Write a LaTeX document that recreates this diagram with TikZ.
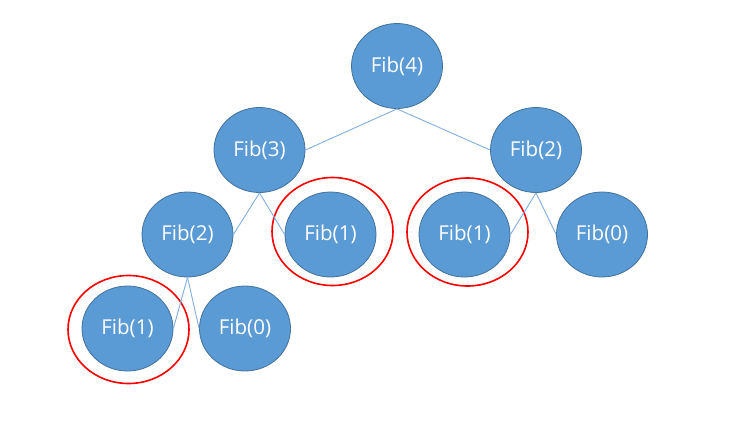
\documentclass[tikz,border=0pt]{standalone}
\usepackage{fontspec}
\setmainfont{Open Sans}
\usetikzlibrary{shapes.geometric}
\definecolor{nodefill}{HTML}{5B9BD5}
\definecolor{nodeline}{HTML}{41719C}
\definecolor{edgecol}{HTML}{7FAEE0}
\begin{document}
\begin{tikzpicture}[x=1pt,y=-1pt,
  fib/.style={ellipse, fill=nodefill, draw=nodeline, line width=0.8pt,
    minimum width=91pt, minimum height=85pt, inner sep=0pt,
    text=white, font=\fontsize{20.5}{22}\selectfont},
  edge/.style={draw=edgecol, line width=0.9pt},
  mark1/.style={ellipse, draw=red, line width=1.6pt, minimum width=121pt,
    minimum height=108pt, inner sep=0pt}]
\useasboundingbox (0,0) rectangle (743,423);
\node[mark1] (r1) at (128.5,329.5) {};
\node[mark1] (r2) at (332.5,231.5) {};
\node[mark1] (r3) at (467.5,232) {};
\node[fib] (f4) at (397,66) {Fib(4)};
\node[fib] (f3) at (259.5,150) {Fib(3)};
\node[fib] (f2r) at (536,150) {Fib(2)};
\node[fib] (f2l) at (187.5,234.5) {Fib(2)};
\node[fib] (f1a) at (330.5,234.5) {Fib(1)};
\node[fib] (f1b) at (464.5,234.5) {Fib(1)};
\node[fib] (f0a) at (602,234.5) {Fib(0)};
\node[fib] (f1c) at (127.5,328.5) {Fib(1)};
\node[fib] (f0b) at (245,328.5) {Fib(0)};
\draw[edge] (f4.south) -- (f3.east);
\draw[edge] (f4.south) -- (f2r.west);
\draw[edge] (f3.south) -- (f2l.east);
\draw[edge] (f3.south) -- (f1a.west);
\draw[edge] (f2r.south) -- (f1b.east);
\draw[edge] (f2r.south) -- (f0a.west);
\draw[edge] (f2l.south) -- (f1c.east);
\draw[edge] (f2l.south) -- (f0b.west);
\end{tikzpicture}
\end{document}
